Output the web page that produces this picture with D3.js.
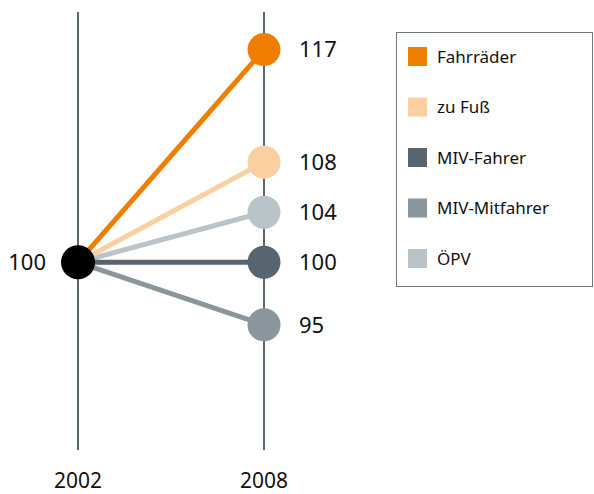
<!DOCTYPE html>
<html>
<head>
<meta charset="utf-8">
<script src="https://cdn.jsdelivr.net/npm/d3@7"></script>
<style>
    body { margin: 0; background: #fff; }
    text { font-family: 'Noto Sans', sans-serif; fill: #111; }
</style>
</head>
<body>
<div id="chart"></div>
<script>
    // data
    const years = ['2002', '2008'];
    const series = ['Fahrräder', 'zu Fuß', 'MIV-Fahrer', 'MIV-Mitfahrer', 'ÖPV'];
    const start = [100, 100, 100, 100, 100];
    const end = [117, 108, 100, 95, 104];
    const colors = ['#ef7d00', '#fbcfa0', '#56656f', '#8a969c', '#b9c3c8'];

    const width = 594;
    const height = 494;

    const svg = d3.select('#chart').append('svg')
        .attr('width', width)
        .attr('height', height);

    const x = d3.scalePoint().domain(years).range([78, 264]);
    const y = d3.scaleLinear().domain([85, 120]).range([450, 12]);

    // vertical year axes
    svg.selectAll('.axis')
        .data(years)
        .enter().append('line')
        .attr('class', 'axis')
        .attr('x1', d => x(d))
        .attr('x2', d => x(d))
        .attr('y1', y(120))
        .attr('y2', y(85))
        .attr('stroke', '#5a6770')
        .attr('stroke-width', 2);

    svg.selectAll('.year')
        .data(years)
        .enter().append('text')
        .attr('class', 'year')
        .attr('x', d => x(d))
        .attr('y', 488)
        .attr('text-anchor', 'middle')
        .style('font-size', '21px')
        .text(d => d);

    // connecting lines (drawn back to front so first series is on top)
    const idx = d3.range(series.length).reverse();

    svg.selectAll('.link')
        .data(idx)
        .enter().append('line')
        .attr('class', 'link')
        .attr('x1', x(years[0]))
        .attr('y1', i => y(start[i]))
        .attr('x2', x(years[1]))
        .attr('y2', i => y(end[i]))
        .attr('stroke', i => colors[i])
        .attr('stroke-width', 5);

    svg.selectAll('.dot')
        .data(idx)
        .enter().append('circle')
        .attr('class', 'dot')
        .attr('cx', x(years[1]))
        .attr('cy', i => y(end[i]))
        .attr('r', 16.5)
        .attr('fill', i => colors[i]);

    svg.selectAll('.val')
        .data(idx)
        .enter().append('text')
        .attr('class', 'val')
        .attr('x', 299)
        .attr('y', i => y(end[i]))
        .attr('dy', '.36em')
        .style('font-size', '22px')
        .text(i => end[i]);

    // start point
    svg.append('circle')
        .attr('cx', x(years[0]))
        .attr('cy', y(start[0]))
        .attr('r', 17)
        .attr('fill', '#000');

    svg.append('text')
        .attr('x', 46)
        .attr('y', y(start[0]))
        .attr('dy', '.36em')
        .attr('text-anchor', 'end')
        .style('font-size', '22px')
        .text(start[0]);

    // legend
    const legend = svg.append('g').attr('transform', 'translate(396,32)');

    legend.append('rect')
        .attr('x', 0.5)
        .attr('y', 0.5)
        .attr('width', 196)
        .attr('height', 254)
        .attr('fill', 'none')
        .attr('stroke', '#6d7a82')
        .attr('stroke-width', 1);

    const item = legend.selectAll('.item')
        .data(series)
        .enter().append('g')
        .attr('class', 'item')
        .attr('transform', (d, i) => `translate(12,${15 + i * 50.5})`);

    item.append('rect')
        .attr('width', 19)
        .attr('height', 19)
        .attr('fill', (d, i) => colors[i]);

    item.append('text')
        .attr('x', 29)
        .attr('y', 10)
        .attr('dy', '.35em')
        .style('font-size', '17px')
        .text(d => d);
</script>
</body>
</html>
